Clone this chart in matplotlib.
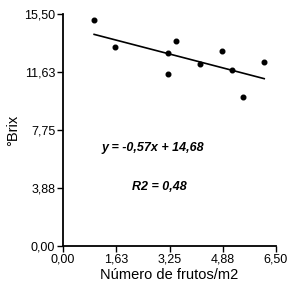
import numpy as np
import matplotlib.pyplot as plt

plt.rcParams['font.family'] = ['Liberation Sans', 'DejaVu Sans']

# frutos/m2 vs °Brix
frutos = [0.95, 1.60, 3.21, 3.44, 3.21, 4.19, 4.84, 5.17, 5.50, 6.14]
brix = [15.12, 13.29, 12.91, 13.69, 11.48, 12.13, 13.06, 11.79, 9.98, 12.28]
slope = -0.57
intercept = 14.68
xticks = [0.00, 1.63, 3.25, 4.88, 6.50]
yticks = [0.00, 3.88, 7.75, 11.63, 15.50]

fig = plt.figure(figsize=(2.93, 2.93), dpi=100)
ax = fig.add_axes([63/293, 47/293, 213/293, 232/293])

ax.scatter(frutos, brix, s=11, color='black', zorder=3)
xl = np.array([min(frutos), max(frutos)])
ax.plot(xl, slope*xl + intercept, color='black', lw=1.2)

ax.set_xlim(0, 6.5)
ax.set_ylim(0, 15.5)
ax.set_xticks(xticks)
ax.set_yticks(yticks)
ax.set_xticklabels([f'{v:.2f}'.replace('.', ',') for v in xticks], fontsize=9)
ax.set_yticklabels([f'{v:.2f}'.replace('.', ',') for v in yticks], fontsize=9)
for s in ['top', 'right']:
    ax.spines[s].set_visible(False)
for s in ['left', 'bottom']:
    ax.spines[s].set_linewidth(1.3)
ax.tick_params(direction='out', length=4, width=1, pad=1.5, color='black')

ax.set_xlabel('Número de frutos/m2', fontsize=10.5, labelpad=2)
ax.set_ylabel('°Brix', fontsize=10.5, labelpad=3)

ax.text(2.73, 6.55, 'y = -0,57x + 14,68', fontsize=9, fontweight='bold',
        fontstyle='italic', ha='center', va='center')
ax.text(2.95, 3.95, 'R2 = 0,48', fontsize=9, fontweight='bold',
        fontstyle='italic', ha='center', va='center')

fig.savefig('out.png', dpi=100)
